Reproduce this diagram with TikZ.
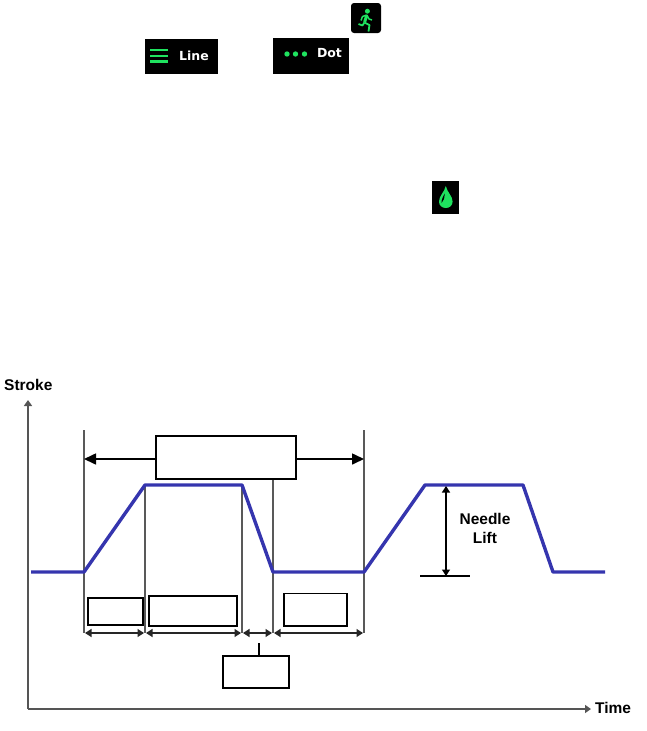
\documentclass[tikz,border=0pt]{standalone}
\usepackage{fontspec}
\setmainfont{Liberation Sans}
\newfontfamily\iconfont{DejaVu Sans}
\usepackage{tikz}
\usetikzlibrary{arrows.meta,calc}
\definecolor{iconGreen}{HTML}{1FE35F}
\definecolor{traceBlue}{HTML}{3535AE}
\definecolor{axisGray}{HTML}{555555}
\tikzset{
  axislabel/.style={font=\bfseries\fontsize{15.5}{19}\selectfont, text=black, align=center, inner sep=0pt},
  axisline/.style={-{Triangle[length=6pt,width=8pt]}, line width=2pt, axisGray},
  trace/.style={line width=3.4pt, traceBlue, line join=round},
  guide/.style={line width=1.6pt, black!65},
  dim/.style={{Triangle[length=6.5pt,width=8pt]}-{Triangle[length=6.5pt,width=8pt]}, line width=1.3pt, black!85},
  span/.style={-{Triangle[length=12pt,width=11pt]}, line width=1.6pt, black},
  blank/.style={draw=black, fill=white, line width=1.7pt, inner sep=0pt, outer sep=0pt, anchor=north west},
  iconbox/.style={fill=black, inner sep=0pt, outer sep=0pt, anchor=north west},
  icontext/.style={font=\iconfont\bfseries\fontsize{12.5}{15}\selectfont, text=white, inner sep=0pt},
  greenbar/.style={iconGreen, line width=2.2pt},
  greendot/.style={circle, fill=iconGreen, minimum size=5.4pt, inner sep=0pt},
}
\begin{document}
\begin{tikzpicture}[x=1pt,y=-1pt]
\useasboundingbox (0,0) rectangle (647,731);
% icons
\node[iconbox, rounded corners=3pt, minimum width=30pt, minimum height=30pt] (run) at (351,3) {};
\node[iconbox, minimum width=73pt, minimum height=35pt] (line) at (145,39) {};
\node[iconbox, minimum width=76pt, minimum height=36pt] (dot) at (273,38) {};
\node[iconbox, minimum width=27pt, minimum height=33pt] (drop) at (432,181) {};
% runner
\fill[iconGreen] (367.4,11.2) circle (2.5pt);
\draw[iconGreen, line width=3pt, line join=round] (366.8,15.5) -- (364.6,22);
\draw[iconGreen, line width=1.5pt, line join=round] (366.8,15) -- (362.5,16.5) -- (361,20.5);
\draw[iconGreen, line width=1.5pt, line join=round] (366.8,15) -- (369,19) -- (372,20);
\draw[iconGreen, line width=1.8pt, line join=round] (364.3,22.5) -- (369.5,25) -- (368.5,31.5);
\draw[iconGreen, line width=1.8pt, line join=round] (364.3,22.5) -- (362.5,25.5) -- (358.5,24);
% line, dot
\draw[greenbar] (150,50) -- (168,50);
\draw[greenbar] (150,56) -- (168,56);
\draw[greenbar] (150,61.5) -- (168,61.5);
\node[icontext] (linetext) at (194,56) {Line};
\node[greendot] (d1) at (287,54) {};
\node[greendot] (d2) at (295.5,54) {};
\node[greendot] (d3) at (304.5,54) {};
\node[icontext] (dottext) at (329.5,53) {Dot};
% drop
\fill[iconGreen] (445.8,186) .. controls (444.5,192) and (439,196) .. (439,201.5)
  .. controls (439,205.5) and (442,208) .. (445.8,208)
  .. controls (449.6,208) and (452.6,205.5) .. (452.6,201.5)
  .. controls (452.6,196) and (447,192) .. (445.8,186) -- cycle;
\fill[black] (444.6,193.5) .. controls (443.5,196.5) and (441.2,199) .. (441.6,203)
  .. controls (443.4,201) and (444.8,198) .. (444.6,193.5) -- cycle;
% axes
\coordinate (origin) at (28,709);
\coordinate (ytop) at (28,400);
\coordinate (xend) at (591,709);
\draw[axisline] (origin) -- (ytop);
\draw[axisline] (origin) -- (xend);
\node[axislabel, anchor=west] (ylabel) at (4,385) {Stroke};
\node[axislabel, anchor=west] (xlabel) at (595,708) {Time};
% guides
\coordinate (g1a) at (84,430);  \coordinate (g1b) at (84,633);
\coordinate (g2a) at (145,485); \coordinate (g2b) at (145,633);
\coordinate (g3a) at (242,485); \coordinate (g3b) at (242,633);
\coordinate (g4a) at (273,479); \coordinate (g4b) at (273,633);
\coordinate (g5a) at (364,430); \coordinate (g5b) at (364,633);
\draw[guide] (g1a) -- (g1b);
\draw[guide] (g2a) -- (g2b);
\draw[guide] (g3a) -- (g3b);
\draw[guide] (g4a) -- (g4b);
\draw[guide] (g5a) -- (g5b);
% trace
\coordinate (t0) at (31,572);  \coordinate (t1) at (84,572);
\coordinate (t2) at (145,485); \coordinate (t3) at (242,485);
\coordinate (t4) at (273,572); \coordinate (t5) at (364,572);
\coordinate (t6) at (425,485); \coordinate (t7) at (523,485);
\coordinate (t8) at (553,572); \coordinate (t9) at (605,572);
\draw[trace] (t0) -- (t1) -- (t2) -- (t3) -- (t4) -- (t5) -- (t6) -- (t7) -- (t8) -- (t9);
% top span
\node[blank, minimum width=140pt, minimum height=43pt] (period) at (156,436) {};
\draw[span] (period.west |- 0,459) -- (g1a |- 0,459);
\draw[span] (period.east |- 0,459) -- (g5a |- 0,459);
% lower dims
\draw[dim] (85,633) -- (144,633);
\draw[dim] (146,633) -- (241,633);
\draw[dim] (243,633) -- (272,633);
\draw[dim] (274,633) -- (363,633);
\node[blank, minimum width=55pt, minimum height=27pt] (riseBox) at (88,598) {};
\node[blank, minimum width=88pt, minimum height=30pt] (openBox) at (149,596) {};
\node[blank, minimum width=63pt, minimum height=32.5pt] (dwellBox) at (284,593.5) {};
\node[blank, minimum width=66pt, minimum height=32pt] (fallBox) at (223,656) {};
\coordinate (falltick) at (259,643);
\draw[line width=2pt] (falltick) -- (falltick |- fallBox.north);
% needle lift
\coordinate (liftTop) at (446,486);
\coordinate (liftBase) at (446,576);
\draw[line width=1.2pt, black] (420,576) -- (470,576);
\draw[dim, black] (liftTop) -- (liftBase);
\node[axislabel] (lift) at (485,528) {Needle\\Lift};
\end{tikzpicture}
\end{document}
